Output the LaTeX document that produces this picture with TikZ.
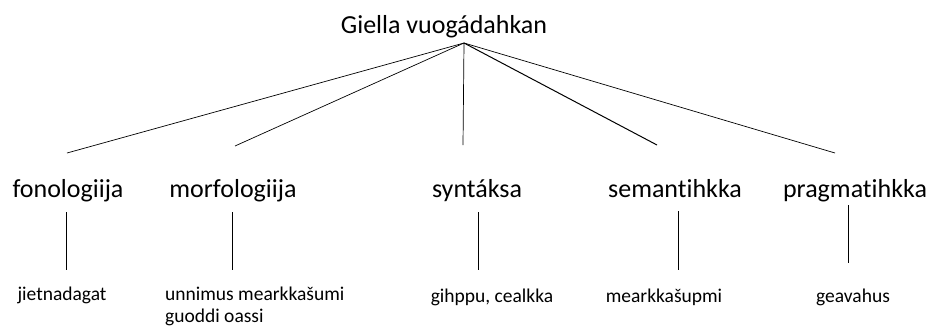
\documentclass[tikz,border=0pt]{standalone}
\usepackage{fontspec}
\setmainfont{Carlito}[Ligatures=NoCommon]
\tikzset{
  head/.style={anchor=base,inner sep=0pt,font=\fontsize{26}{30}\selectfont},
  leaf/.style={anchor=base,inner sep=0pt,font=\fontsize{19.5}{22}\selectfont},
  twig/.style={line width=0.7pt}
}
\begin{document}
\begin{tikzpicture}[x=1pt,y=-1pt]
            \useasboundingbox (0,0) rectangle (934,330);
            \node [head] (giella) at (444,33) {Giella vuogádahkan};
            \coordinate (apex) at (464,43);
            % fields
            \node [head] (fon) at (68,197) {fonologiija};
            \node [head] (mor) at (233,197) {morfologiija};
            \node [head] (syn) at (477,197) {syntáksa};
            \node [head] (sem) at (675,197) {semantihkka};
            \node [head] (pra) at (855,197) {pragmatihkka};
            % examples
            \node [leaf] (fonx) at (62,300) {jietnadagat};
            \node [leaf,anchor=base west,align=left] (morx) at (165,322) {unnimus mearkkašumi\\guoddi oassi};
            \node [leaf] (synx) at (492,302) {gihppu, cealkka};
            \node [leaf] (semx) at (664,302) {mearkkašupmi};
            \node [leaf] (prax) at (853,302) {geavahus};
            % ends of the branches
            \coordinate (fonend) at (67,153);
            \coordinate (morend) at (235,146);
            \coordinate (synend) at (463,145);
            \coordinate (semend) at (657,145);
            \coordinate (praend) at (835,153);
            \draw [twig] (apex) -- (fonend);
            \draw [twig] (apex) -- (morend);
            \draw [twig] (apex) -- (synend);
            \draw [twig,line width=1pt] (apex) -- (semend);
            \draw [twig] (apex) -- (praend);
            % stems down to the examples
            \draw [twig] (66,212) -- (66,270);
            \draw [twig] (232,212) -- (232,270);
            \draw [twig] (478,212) -- (478,270);
            \draw [twig] (678,211) -- (678,270);
            \draw [twig] (848,205) -- (848,263);
        \end{tikzpicture}
\end{document}
